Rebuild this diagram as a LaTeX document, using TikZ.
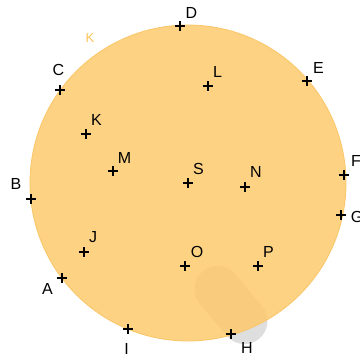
\documentclass[tikz,border=0pt]{standalone}
\usepackage{fontspec}
\setmainfont{Liberation Sans}
\usetikzlibrary{shapes.misc}
\definecolor{discfill}{RGB}{253,202,108}
\definecolor{discedge}{RGB}{250,198,105}
\definecolor{discname}{RGB}{252,196,90}
\definecolor{shadegray}{RGB}{222,222,222}

\begin{document}
\begin{tikzpicture}[
    x=1pt, y=-1pt,
    cross/.style={line width=1.9pt},
    lbl/.style={font=\fontsize{16}{18}\selectfont, inner sep=0pt},
    disc/.style={circle, fill=discfill, fill opacity=0.85, draw=discedge, line width=0.8pt, inner sep=0pt}
]
\useasboundingbox (0,0) rectangle (360,357);

% shadow under the disc
\node[rounded rectangle, fill=shadegray, minimum width=88pt, minimum height=46pt, inner sep=0pt, rotate=-50] (blob) at (231,305) {};

% disc
\node[disc, minimum size=316pt] (disc) at (188,183) {};
\node[text=discname, font=\fontsize{13}{15}\selectfont, inner sep=0pt] (discname) at (90,38) {K};

% points
\foreach \n/\x/\y in {A/62/278, B/31/199, C/60/90, D/180/26, E/307/81, F/344/175,
    G/341/215, H/231/334, I/128/329, J/84/252, K/86/134, L/208/86, M/113/171,
    N/245/187, O/185/266, P/258/266, S/188/183} {
  \coordinate (\n) at (\x,\y);
  \draw[cross] (\n) ++(-5,0) -- ++(10,0) (\n) ++(0,-5) -- ++(0,10);
}

% labels
\foreach \n/\x/\y in {A/47.5/289, B/16/184, C/58.5/69.5, D/191.5/13, E/318.5/68, F/356/160.5,
    G/357/216.5, H/247/347.5, I/126.5/348.5, J/93/237.5, K/96.5/120, L/217.5/72, M/124.5/157.5,
    N/256/172, O/197/252, P/268.5/251.5, S/198.5/169} {
  \node[lbl] (l\n) at (\x,\y) {\n};
}

\end{tikzpicture}
\end{document}
